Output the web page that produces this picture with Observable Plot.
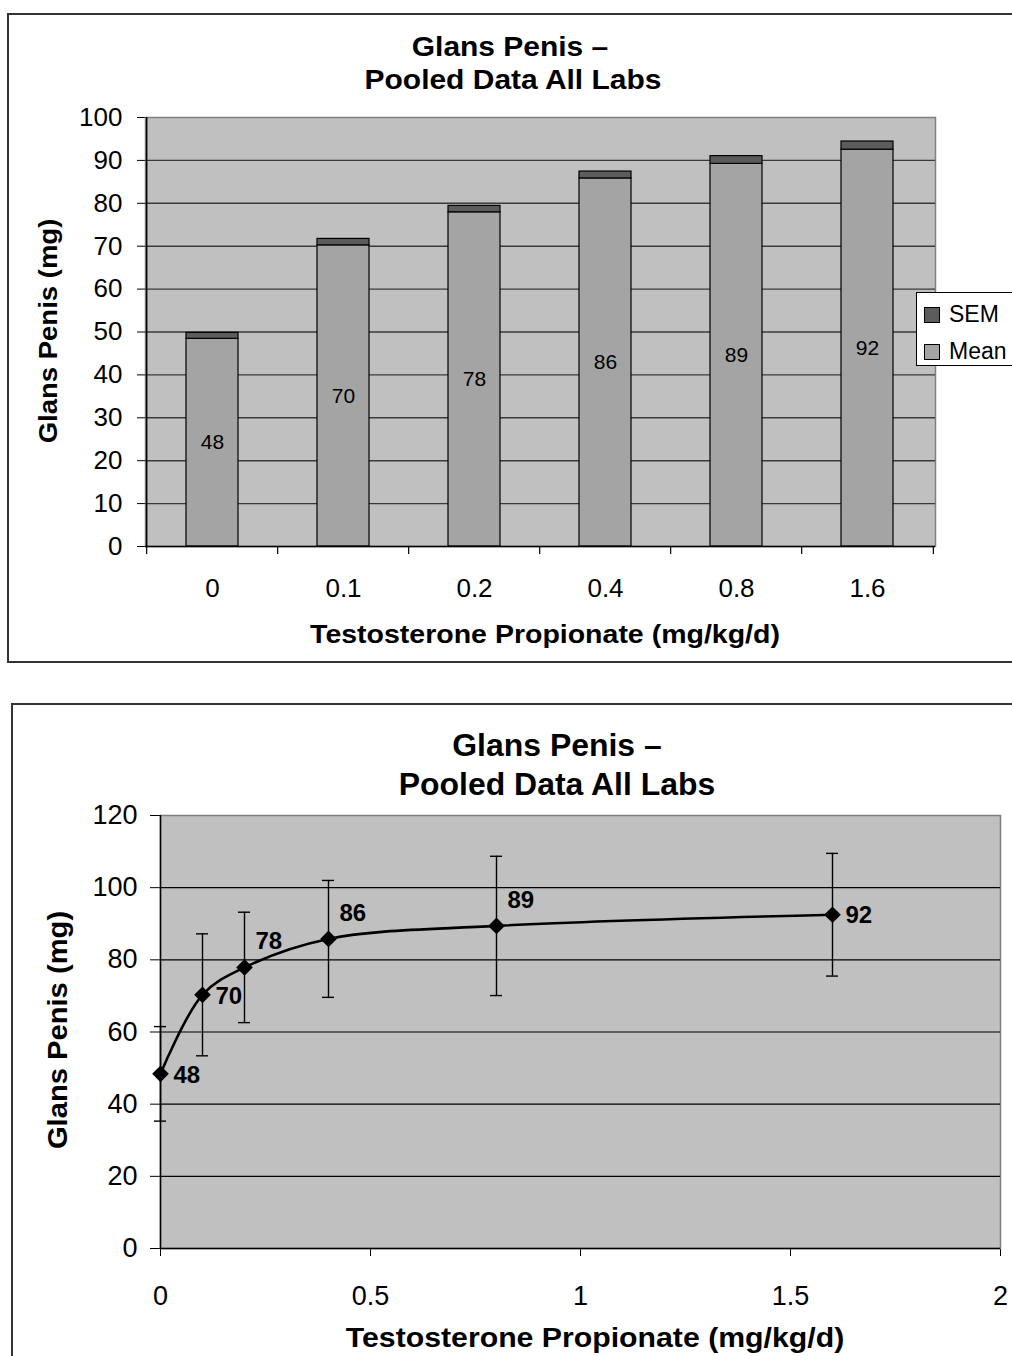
<!DOCTYPE html>
<html><head><meta charset="utf-8">
<script src="https://cdn.jsdelivr.net/npm/d3@7"></script>
<script src="https://cdn.jsdelivr.net/npm/@observablehq/plot@0.6"></script>
<style>
body{margin:0;background:#fff;font-family:"Liberation Sans",Arial,sans-serif;}
#page{position:relative;width:1012px;height:1356px;overflow:hidden;background:#fff;}
.frame{position:absolute;border:2px solid #333;box-sizing:border-box;}
.svgbox{position:absolute;left:0;}
.t{position:absolute;white-space:nowrap;font-weight:bold;color:#000;line-height:1;}
.legend{position:absolute;background:#fff;border:1px solid #000;box-sizing:border-box;}
.li{position:absolute;left:7px;display:flex;align-items:center;font-size:23px;color:#000;}
.sw{width:14px;height:14px;border:1px solid #000;margin-right:9px;}
</style></head><body><div id="page"></div>
<script>
// ---- data ----
const doseLabels = ["0", "0.1", "0.2", "0.4", "0.8", "1.6"];
const doseValues = [0, 0.1, 0.2, 0.4, 0.8, 1.6];
const meanValues = [48.4, 70.2, 77.9, 85.8, 89.2, 92.5];
const semValues = [1.4, 1.5, 1.5, 1.6, 1.8, 1.9];
const meanText = ["48", "70", "78", "86", "89", "92"];
const lineMeans = [48.4, 70.3, 77.9, 85.8, 89.4, 92.5];
const sdValues = [13.1, 16.9, 15.3, 16.2, 19.3, 17.0];
const seriesNames = ["SEM", "Mean"];
const seriesColors = ["#5c5c5c", "#a4a4a4"];
const topYTicks = [0, 10, 20, 30, 40, 50, 60, 70, 80, 90, 100];
const topGrid = [10, 20, 30, 40, 50, 60, 70, 80, 90];
const botYTicks = [0, 20, 40, 60, 80, 100, 120];
const botGrid = [20, 40, 60, 80, 100];
const botXTicks = [0, 0.5, 1, 1.5, 2];
const titleLines = ["Glans Penis \u2013", "Pooled Data All Labs"];
const xTitle = "Testosterone Propionate (mg/kg/d)";
const yTitle = "Glans Penis (mg)";

const page = document.getElementById("page");
const FONT = '"Liberation Sans", Arial, sans-serif';

function addText(txt, cx, cy, size, opts = {}) {
  const d = document.createElement("div");
  d.className = "t";
  d.textContent = txt;
  d.style.fontSize = size + "px";
  d.style.left = cx + "px";
  d.style.top = cy + "px";
  const rot = opts.rotate ? ` rotate(${opts.rotate}deg)` : "";
  const sx = opts.sx || 1;
  d.style.transform = `translate(-50%,-50%)${rot} scale(${sx},1)`;
  page.appendChild(d);
}
function addFrame(l, t, w, h) {
  const f = document.createElement("div");
  f.className = "frame";
  Object.assign(f.style, {left: l + "px", top: t + "px", width: w + "px", height: h + "px"});
  page.appendChild(f);
}

// ---- frames ----
addFrame(7, 13, 1020, 650);
addFrame(11, 703, 1020, 700);

// ---- top chart: stacked bars ----
const barRows = [];
doseLabels.forEach((d, i) => {
  barRows.push({dose: d, series: "Mean", value: meanValues[i]});
  barRows.push({dose: d, series: "SEM", value: semValues[i]});
});
const labelRows = doseLabels.map((d, i) => ({dose: d, mean: meanValues[i], text: meanText[i]}));

const topW = 1012, topML = 145, topMR = 77;
const step = (topW - topML - topMR) / doseLabels.length;

const barChart = Plot.plot({
  width: topW, height: 560,
  marginLeft: topML, marginRight: topMR, marginTop: 17, marginBottom: 114,
  style: {background: "transparent", fontFamily: FONT, fontSize: "26px", color: "#000", overflow: "visible"},
  x: {type: "band", domain: doseLabels, paddingInner: 0.6, paddingOuter: 0.3, tickSize: 0, tickPadding: 32, label: null},
  y: {domain: [0, 100], ticks: topYTicks, tickSize: 8, tickPadding: 15, label: null},
  color: {domain: seriesNames, range: seriesColors},
  marks: [
    Plot.frame({fill: "#c0c0c0", stroke: "#808080", strokeWidth: 1.5}),
    Plot.ruleY(topGrid, {stroke: "#3a3a3a", strokeWidth: 1.4}),
    Plot.barY(barRows, {x: "dose", y: "value", fill: "series", order: ["Mean", "SEM"], stroke: "#000", strokeWidth: 1.2}),
    Plot.text(labelRows, {x: "dose", y: d => d.mean / 2, text: "text", fontSize: 21, fill: "#000"}),
    Plot.ruleY([0], {stroke: "#000", strokeWidth: 1.5}),
    Plot.ruleX([doseLabels[0]], {dx: -step / 2, stroke: "#000", strokeWidth: 1.5}),
    Plot.ruleX(doseLabels, {y1: 0, y2: 0, insetBottom: -8, dx: -step / 2, stroke: "#000", strokeWidth: 1.2}),
    Plot.ruleX([doseLabels[doseLabels.length - 1]], {y1: 0, y2: 0, insetBottom: -8, dx: step / 2, stroke: "#000", strokeWidth: 1.2})
  ]
});
const topBox = document.createElement("div");
topBox.className = "svgbox"; topBox.style.top = "100px";
topBox.appendChild(barChart);
page.appendChild(topBox);

addText(titleLines[0], 510, 47, 28, {sx: 1.07});
addText(titleLines[1], 513, 80, 28, {sx: 1.07});
addText(xTitle, 545, 634, 25, {sx: 1.14});
addText(yTitle, 48, 331, 25, {rotate: -90, sx: 1.1});

// legend
const lg = document.createElement("div");
lg.className = "legend";
Object.assign(lg.style, {left: "916px", top: "292px", width: "120px", height: "74px"});
seriesNames.forEach((s, i) => {
  const it = document.createElement("div");
  it.className = "li";
  it.style.top = (8 + i * 37) + "px";
  const sw = document.createElement("div");
  sw.className = "sw"; sw.style.background = seriesColors[i];
  const tx = document.createElement("span"); tx.textContent = s;
  it.appendChild(sw); it.appendChild(tx);
  lg.appendChild(it);
});
page.appendChild(lg);

// ---- bottom chart: line with error bars ----
const pts = doseValues.map((x, i) => ({dose: x, mean: lineMeans[i], sd: sdValues[i], text: meanText[i]}));
const raised = new Set([2, 3, 4]);

const lineChart = Plot.plot({
  width: 1012, height: 566,
  marginLeft: 160, marginRight: 12, marginTop: 25, marginBottom: 108,
  style: {background: "transparent", fontFamily: FONT, fontSize: "27px", color: "#000", overflow: "visible"},
  x: {domain: [0, 2], ticks: botXTicks, tickFormat: d => String(d), tickSize: 8, tickPadding: 29, label: null},
  y: {domain: [0, 120], ticks: botYTicks, tickSize: 10, tickPadding: 13, label: null},
  marks: [
    Plot.frame({fill: "#c0c0c0", stroke: "#808080", strokeWidth: 1.5}),
    Plot.ruleY(botGrid, {stroke: "#000", strokeWidth: 1.2}),
    Plot.ruleY([0], {stroke: "#000", strokeWidth: 1.5}),
    Plot.ruleX([0], {stroke: "#000", strokeWidth: 1.5}),
    Plot.ruleX(pts, {x: "dose", y1: d => d.mean - d.sd, y2: d => d.mean + d.sd, stroke: "#000", strokeWidth: 1.4}),
    Plot.ruleY(pts, {x1: "dose", x2: "dose", y: d => d.mean + d.sd, insetLeft: -6, insetRight: -6, stroke: "#000", strokeWidth: 1.4}),
    Plot.ruleY(pts, {x1: "dose", x2: "dose", y: d => d.mean - d.sd, insetLeft: -6, insetRight: -6, stroke: "#000", strokeWidth: 1.4}),
    Plot.line(pts, {x: "dose", y: "mean", curve: "catmull-rom", stroke: "#000", strokeWidth: 2.6}),
    Plot.dot(pts, {x: "dose", y: "mean", symbol: "diamond2", r: 7.5, fill: "#000", stroke: "none"}),
    Plot.text(pts.filter((d, i) => !raised.has(i)), {x: "dose", y: "mean", text: "text", dx: 13, dy: 1, textAnchor: "start", fontWeight: "bold", fontSize: 24, fill: "#000"}),
    Plot.text(pts.filter((d, i) => raised.has(i)), {x: "dose", y: "mean", text: "text", dx: 11, dy: -26, textAnchor: "start", fontWeight: "bold", fontSize: 24, fill: "#000"})
  ]
});
const botBox = document.createElement("div");
botBox.className = "svgbox"; botBox.style.top = "790px";
botBox.appendChild(lineChart);
page.appendChild(botBox);

addText(titleLines[0], 557, 745, 31, {sx: 1.03});
addText(titleLines[1], 557, 784, 31, {sx: 1.03});
addText(xTitle, 595, 1338, 27, {sx: 1.12});
addText(yTitle, 58, 1030, 27, {rotate: -90, sx: 1.08});
</script></body></html>
